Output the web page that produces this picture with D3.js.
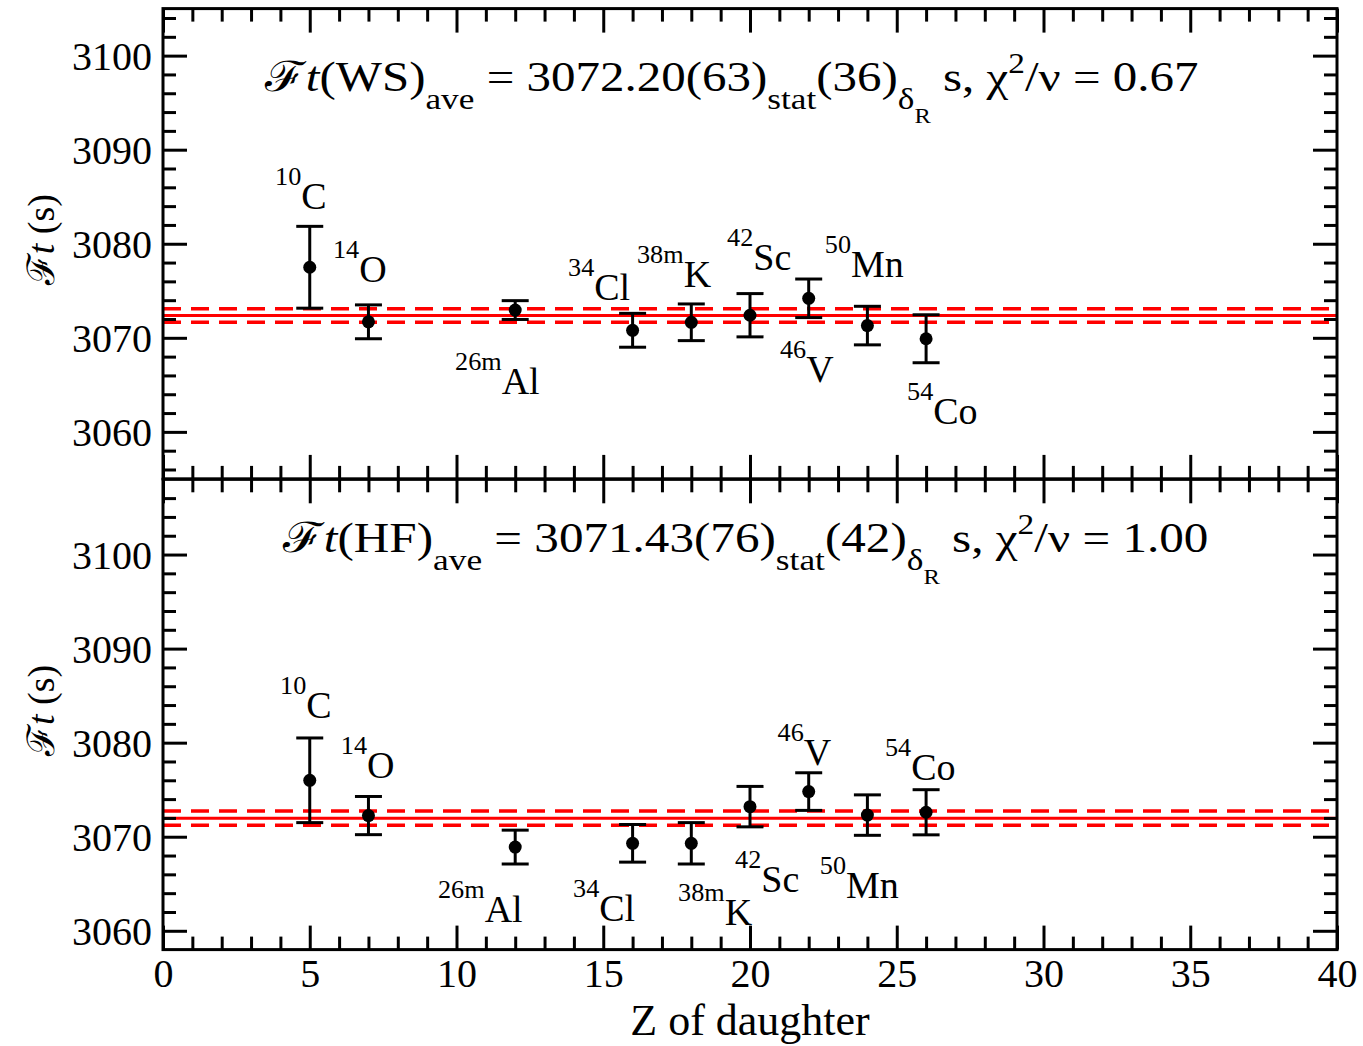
<!DOCTYPE html>
<html>
<head>
<meta charset="utf-8">
<script src="https://cdn.jsdelivr.net/npm/d3@7"></script>
<style>
  body { margin: 0; background: #fff; }
  text { font-family: "Liberation Serif", "DejaVu Serif", serif; fill: #000; }
</style>
</head>
<body>
<div id="chart"></div>
<script>
// Data
var nuclides = ["C", "O", "Al", "Cl", "K", "Sc", "V", "Mn", "Co"];
var massNumbers = ["10", "14", "26m", "34", "38m", "42", "46", "50", "54"];
var zDaughter = [5, 7, 12, 16, 18, 20, 22, 24, 26];

var ftWS = [3077.5, 3071.7, 3072.95, 3070.8, 3071.65, 3072.4, 3074.2, 3071.3, 3069.9];
var errWS = [4.35, 1.8, 1.0, 1.8, 1.95, 2.3, 2.05, 2.05, 2.55];
var ftHF = [3076.0, 3072.25, 3068.9, 3069.3, 3069.3, 3073.2, 3074.8, 3072.3, 3072.6];
var errHF = [4.5, 2.03, 1.8, 2.0, 2.2, 2.15, 2.0, 2.15, 2.4];

// average lines as drawn, and their half-band
var aveLine = [3072.37, 3071.97];
var aveBand = [0.71, 0.76];

// title numbers
var methodNames = ["WS", "HF"];
var aveText = ["3072.20", "3071.43"];
var statText = ["63", "76"];
var deltaText = ["36", "42"];
var chiText = ["0.67", "1.00"];

// label anchors [Z, Ft] (start of the mass number, baseline of the symbol)
var labelAtWS = [[3.82, 3083.7], [5.79, 3075.98], [9.95, 3063.98], [13.8, 3074.07], [16.15, 3075.45],
                 [19.22, 3077.25], [21.02, 3065.26], [22.55, 3076.5], [25.35, 3060.8]];
var labelAtHF = [[3.99, 3082.63], [6.06, 3076.25], [9.37, 3060.95], [13.97, 3061.07], [17.55, 3060.64],
                 [19.49, 3064.15], [20.94, 3077.64], [22.38, 3063.51], [24.6, 3076.07]];

// axes
var zDomain = [0, 40];
var zMajor = d3.range(0, 41, 5);
var zMinor = d3.range(0, 41, 1).filter(v => v % 5 !== 0);
var ftDomains = [[3055, 3105], [3058, 3108]];
var ftMajor = [3060, 3070, 3080, 3090, 3100];

// Layout
var width = 1363, height = 1046;
var plotLeft = 163, plotRight = 1337;
var panelTops = [8.6, 479.3];
var panelHeight = 470.3;
var titleLeft = [265, 283], titleRight = [1200, 1210], titleBase = [91, 552];

var svg = d3.select("#chart").append("svg")
    .attr("width", width)
    .attr("height", height);

svg.append("rect").attr("width", width).attr("height", height).attr("fill", "#fff");

var x = d3.scaleLinear().domain(zDomain).range([plotLeft, plotRight]);

// text pieces: [string, kind]; size is a fraction of the base size
var kinds = {
    "": { dy: 0, size: 1 },
    "italic": { dy: 0, size: 1, italic: true },
    "sub": { dy: 0.42, size: 0.72 },
    "subsub": { dy: 0.76, size: 0.5 },
    "sup": { dy: -0.44, size: 0.68 },
    "iso": { dy: -0.63, size: 0.69 }
};

function richText(textSel, parts, baseSize) {
    var shift = 0;
    parts.forEach(function(p) {
        var k = kinds[p[1]];
        var t = textSel.append("tspan")
            .text(p[0])
            .attr("dy", (k.dy - shift) * baseSize)
            .attr("font-size", k.size * baseSize);
        if (k.italic) t.attr("font-style", "italic");
        shift = k.dy;
    });
}

function styleAxis(g) {
    g.select(".domain").remove();
    g.selectAll(".tick line").attr("stroke", "#000").attr("stroke-width", 3);
    g.attr("font-family", null);
}

function drawPanel(i, ft, err, labelAt) {
    var top = panelTops[i];
    var bottom = top + panelHeight;
    var dom = ftDomains[i];
    var y = d3.scaleLinear().domain(dom).range([bottom, top]);
    var yMinor = d3.range(Math.ceil(dom[0] / 2) * 2, dom[1] + 0.01, 2)
        .filter(v => v % 10 !== 0 && v > dom[0] && v < dom[1]);

    var panel = svg.append("g");

    // Average line and its band
    panel.append("line")
        .attr("x1", x(zDomain[0])).attr("x2", x(zDomain[1]))
        .attr("y1", y(aveLine[i])).attr("y2", y(aveLine[i]))
        .attr("stroke", "#ff0000").attr("stroke-width", 3);
    [-1, 1].forEach(function(s) {
        panel.append("line")
            .attr("x1", x(zDomain[0])).attr("x2", x(zDomain[1]))
            .attr("y1", y(aveLine[i] + s * aveBand[i])).attr("y2", y(aveLine[i] + s * aveBand[i]))
            .attr("stroke", "#ff0000").attr("stroke-width", 3.5)
            .attr("stroke-dasharray", "18,10");
    });

    // Error bars
    var bars = panel.selectAll("g.bar")
        .data(zDaughter.map((z, j) => ({ z: z, v: ft[j], e: err[j] })))
        .enter().append("g").attr("class", "bar");
    bars.append("line")
        .attr("x1", d => x(d.z)).attr("x2", d => x(d.z))
        .attr("y1", d => y(d.v - d.e)).attr("y2", d => y(d.v + d.e))
        .attr("stroke", "#000").attr("stroke-width", 3);
    [-1, 1].forEach(function(s) {
        bars.append("line")
            .attr("x1", d => x(d.z) - 13.5).attr("x2", d => x(d.z) + 13.5)
            .attr("y1", d => y(d.v + s * d.e)).attr("y2", d => y(d.v + s * d.e))
            .attr("stroke", "#000").attr("stroke-width", 3);
    });
    bars.append("circle")
        .attr("cx", d => x(d.z)).attr("cy", d => y(d.v))
        .attr("r", 6.5).attr("fill", "#000");

    // Nuclide labels
    labelAt.forEach(function(p, j) {
        var t = panel.append("text")
            .attr("x", x(p[0])).attr("y", y(p[1]))
            .attr("font-size", 38);
        richText(t, [[massNumbers[j], "iso"], [nuclides[j], ""]], 38);
    });

    // Title, stretched to the reference's width
    var title = panel.append("text")
        .attr("font-size", 42);
    richText(title, [
        ["\u2131", ""], ["t", "italic"], ["(" + methodNames[i] + ")", ""], ["ave", "sub"],
        [" = " + aveText[i] + "(" + statText[i] + ")", ""], ["stat", "sub"],
        ["(" + deltaText[i] + ")", ""], ["\u03b4", "sub"], ["R", "subsub"],
        [" s, \u03c7", ""], ["2", "sup"], ["/\u03bd = " + chiText[i], ""]
    ], 42);
    var tw = title.node().getBBox().width;
    var sx = (titleRight[i] - titleLeft[i]) / tw;
    title.attr("transform", `translate(${titleLeft[i]},${titleBase[i]}) scale(${sx},1)`);

    // Axes: ticks point inward on all four sides
    panel.append("g").attr("transform", `translate(${plotLeft},0)`)
        .call(d3.axisLeft(y).tickValues(ftMajor).tickSize(-24).tickPadding(11).tickFormat(d3.format("d")))
        .call(styleAxis)
        .selectAll("text").attr("font-size", 40).attr("dy", "0.35em");
    panel.append("g").attr("transform", `translate(${plotLeft},0)`)
        .call(d3.axisLeft(y).tickValues(yMinor).tickSize(-13).tickFormat(""))
        .call(styleAxis);
    panel.append("g").attr("transform", `translate(${plotRight},0)`)
        .call(d3.axisRight(y).tickValues(ftMajor).tickSize(-24).tickFormat(""))
        .call(styleAxis);
    panel.append("g").attr("transform", `translate(${plotRight},0)`)
        .call(d3.axisRight(y).tickValues(yMinor).tickSize(-13).tickFormat(""))
        .call(styleAxis);

    panel.append("g").attr("transform", `translate(0,${top})`)
        .call(d3.axisTop(x).tickValues(zMajor).tickSize(-24).tickFormat(""))
        .call(styleAxis);
    panel.append("g").attr("transform", `translate(0,${top})`)
        .call(d3.axisTop(x).tickValues(zMinor).tickSize(-13).tickFormat(""))
        .call(styleAxis);
    var bottomAxis = panel.append("g").attr("transform", `translate(0,${bottom})`)
        .call(d3.axisBottom(x).tickValues(zMajor).tickSize(-24).tickPadding(9)
            .tickFormat(i === 1 ? d3.format("d") : ""))
        .call(styleAxis);
    bottomAxis.selectAll("text").attr("font-size", 40);
    panel.append("g").attr("transform", `translate(0,${bottom})`)
        .call(d3.axisBottom(x).tickValues(zMinor).tickSize(-13).tickFormat(""))
        .call(styleAxis);

    // Frame
    panel.append("rect")
        .attr("x", plotLeft).attr("y", top)
        .attr("width", plotRight - plotLeft).attr("height", panelHeight)
        .attr("fill", "none").attr("stroke", "#000").attr("stroke-width", 3);

    // Y axis title
    var yt = panel.append("text")
        .attr("transform", `translate(54,${(top + bottom) / 2 - 4}) rotate(-90)`)
        .attr("text-anchor", "middle")
        .attr("font-size", 38);
    richText(yt, [["\u2131", ""], ["t", "italic"], [" (s)", ""]], 38);
}

drawPanel(0, ftWS, errWS, labelAtWS);
drawPanel(1, ftHF, errHF, labelAtHF);

// X axis title
svg.append("text")
    .attr("x", (plotLeft + plotRight) / 2)
    .attr("y", 1035)
    .attr("text-anchor", "middle")
    .attr("font-size", 44)
    .text("Z of daughter");
</script>
</body>
</html>
